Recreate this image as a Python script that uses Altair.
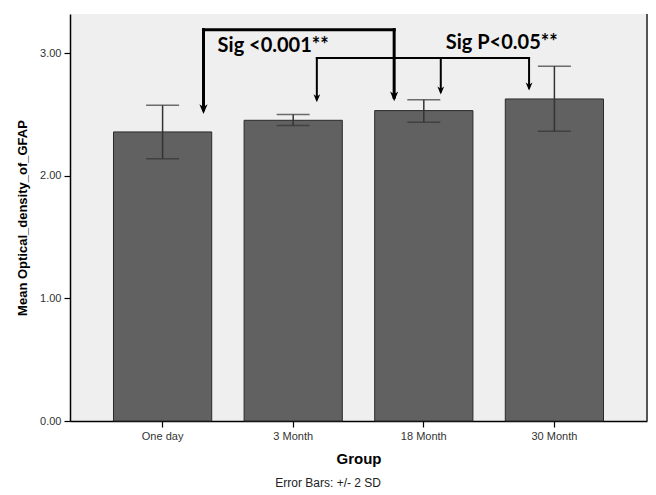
import altair as alt
import pandas as pd

groups = ["One day", "3 Month", "18 Month", "30 Month"]
means = [2.358, 2.453, 2.532, 2.627]
err_low = [2.14, 2.41, 2.437, 2.363]
err_high = [2.575, 2.50, 2.62, 2.893]

# annotation brackets (x in group-index units, y in data units)
seg_x1 = [0.313, 0.313, 1.773, 1.181, 1.181, 2.130, 2.806]
seg_x2 = [1.773, 0.313, 1.773, 2.806, 1.181, 2.130, 2.806]
seg_y1 = [3.192, 3.192, 3.192, 2.961, 2.961, 2.961, 2.961]
seg_y2 = [3.192, 2.54, 2.64, 2.961, 2.63, 2.69, 2.72]
seg_w = [3, 3, 3, 2, 2, 2, 2]

tip_x = [0.313, 1.773, 1.181, 2.130, 2.806]
tip_y = [2.504, 2.608, 2.60, 2.663, 2.695]
tip_size = [380, 380, 260, 260, 260]

note_text = ["Sig <0.001**", "Sig P<0.05**"]
note_x = [0.847, 2.597]
note_y = [3.056, 3.083]

W, H = 577, 407
FONT = "Liberation Sans"
YTITLE = "Mean Optical_density_of_GFAP"

bars_df = pd.DataFrame({"Group": groups, "Mean": means, "lo": err_low, "hi": err_high})
caps_df = pd.DataFrame({"Group": groups * 2, "v": err_low + err_high})
seg_df = pd.DataFrame({"x1": seg_x1, "x2": seg_x2, "y1": seg_y1, "y2": seg_y2, "w": seg_w})
tip_df = pd.DataFrame({"x": tip_x, "y": tip_y, "s": tip_size})
note_df = pd.DataFrame({"t": note_text, "x": note_x, "y": note_y})

yscale = alt.Scale(domain=[0, 3.32], nice=False, zero=True)
xband = alt.Scale(domain=groups, paddingInner=0.248, paddingOuter=0.333)
xq = alt.Scale(domain=[-0.709, 3.709], nice=False, zero=False)

bars = alt.Chart(bars_df).mark_bar(color="#616161", stroke="#2a2a2a", strokeWidth=1).encode(
    x=alt.X("Group:N", scale=xband, sort=groups,
            axis=alt.Axis(title="Group", labelAngle=0)),
    y=alt.Y("Mean:Q", scale=yscale,
            axis=alt.Axis(title=YTITLE, values=[0, 1, 2, 3], format=".2f")),
)

err = alt.Chart(bars_df).mark_rule(color="#333333", strokeWidth=1.5).encode(
    x=alt.X("Group:N", scale=xband, sort=groups),
    y=alt.Y("lo:Q", scale=yscale, title=YTITLE),
    y2="hi:Q",
)

caps = alt.Chart(caps_df).mark_tick(color="#333333", thickness=1.5, size=33).encode(
    x=alt.X("Group:N", scale=xband, sort=groups),
    y=alt.Y("v:Q", scale=yscale, title=YTITLE),
)

base_layer = alt.layer(bars, err, caps)

segs = alt.Chart(seg_df).mark_rule(color="black", strokeCap="square").encode(
    x=alt.X("x1:Q", scale=xq, axis=None),
    x2="x2:Q",
    y=alt.Y("y1:Q", scale=yscale, title=YTITLE),
    y2="y2:Q",
    strokeWidth=alt.StrokeWidth("w:Q", scale=None, legend=None),
)

tips = alt.Chart(tip_df).mark_point(
    shape="M-0.42,-1 L0,0 L0.42,-1 L0,-0.72 Z", filled=True, color="black", opacity=1
).encode(
    x=alt.X("x:Q", scale=xq, axis=None),
    y=alt.Y("y:Q", scale=yscale, title=YTITLE),
    size=alt.Size("s:Q", scale=None, legend=None),
)

notes = alt.Chart(note_df).mark_text(
    font="Lato", fontWeight="bold", fontSize=20, color="black", baseline="middle", align="center"
).encode(
    x=alt.X("x:Q", scale=xq, axis=None),
    y=alt.Y("y:Q", scale=yscale, title=YTITLE),
    text="t:N",
)

edge = alt.Chart(bars_df).mark_rule(color="#555555", strokeWidth=1.5).encode(
    x=alt.value(W), y=alt.value(0), y2=alt.value(H)
)

anno_layer = alt.layer(segs, tips, notes, edge)

chart = alt.layer(base_layer, anno_layer).resolve_scale(x="independent").properties(
    width=W, height=H,
    padding={"left": 8, "top": 5, "right": 0, "bottom": 0},
    title=alt.TitleParams(
        text="Error Bars: +/- 2 SD", orient="bottom", anchor="middle", frame="bounds",
        font=FONT, fontSize=12, fontWeight="normal", color="#222222", offset=12, dx=-4,
    ),
).configure_view(
    fill="#efefef", stroke=None
).configure_axis(
    domainColor="black", domainWidth=1.5, tickColor="black", tickSize=6, tickWidth=1.2,
    labelFont=FONT, labelFontSize=11, labelColor="#333333", labelPadding=3,
    titleFont=FONT, titleFontWeight="bold", titleColor="black", grid=False,
).configure_axisY(
    titleFontSize=13, titlePadding=10,
).configure_axisX(
    titleFontSize=15, titlePadding=10,
)

chart.save("out.html", embed_options={"renderer": "svg", "actions": False})
